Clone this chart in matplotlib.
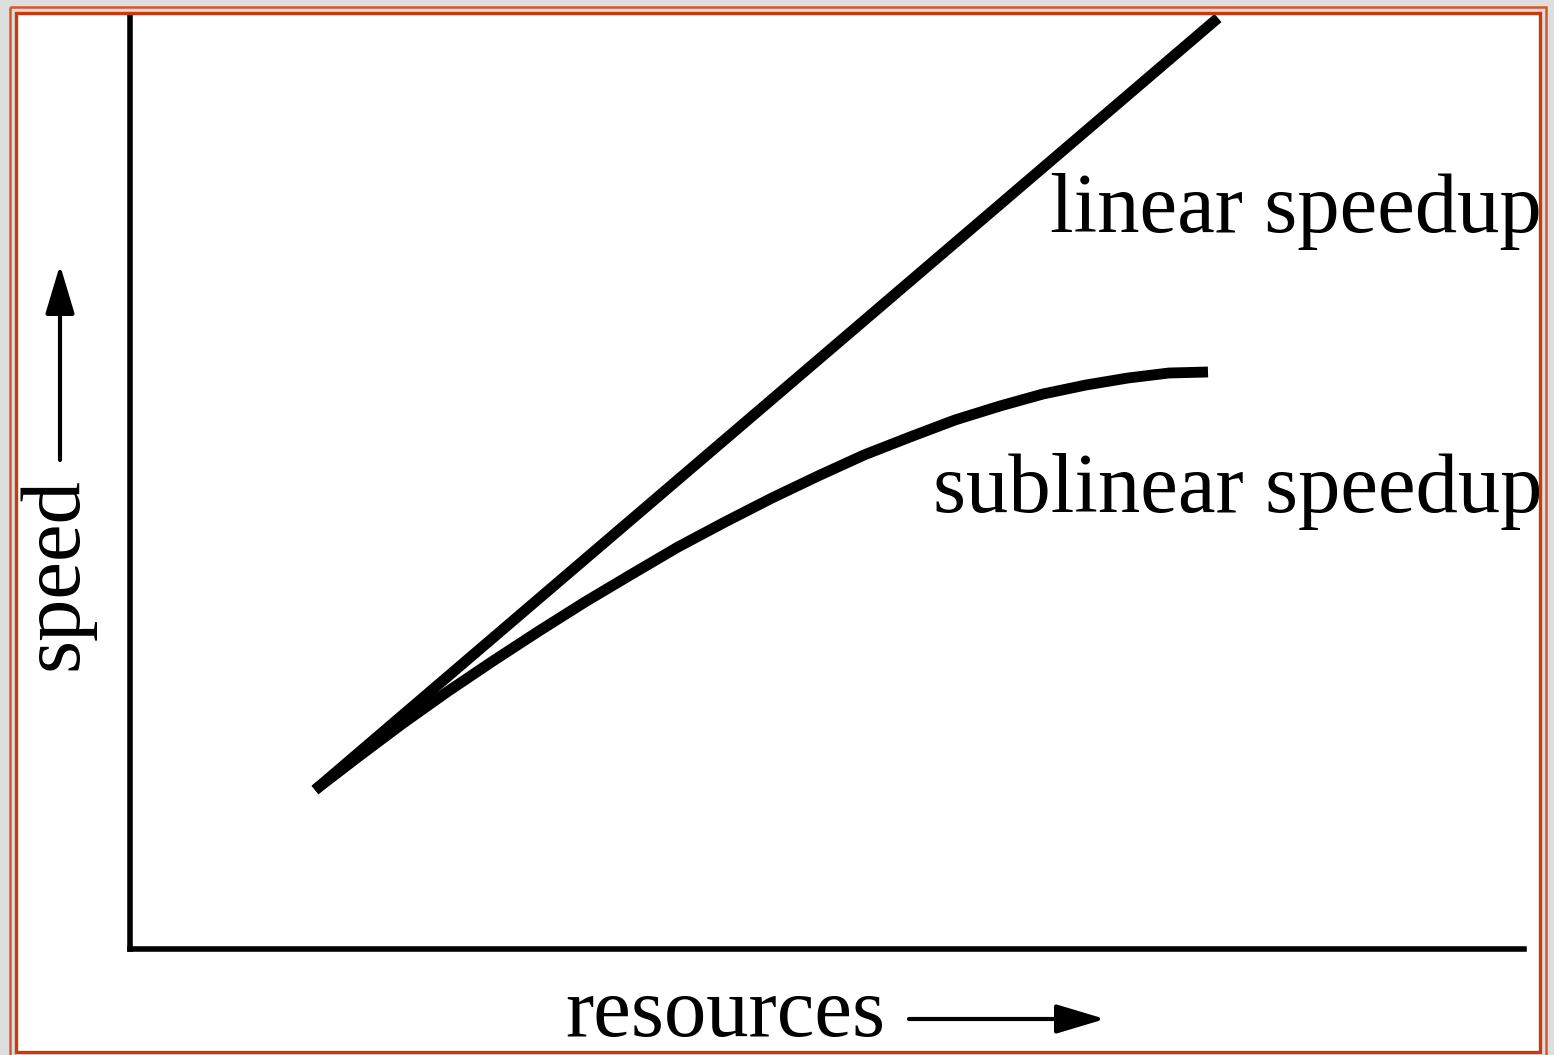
import matplotlib
matplotlib.use("Agg")
import matplotlib.pyplot as plt
from matplotlib.patches import Rectangle, FancyArrowPatch
from matplotlib.transforms import Affine2D

# data (resources, speed) in arbitrary units
linear_x = [1.85, 10.88]
linear_y = [1.59, 9.31]

sublinear_x = [1.85, 2.28, 2.72, 3.17, 3.63, 4.09, 4.55, 5.02, 5.48, 5.95, 6.42,
               6.88, 7.34, 7.80, 8.25, 8.70, 9.13, 9.56, 9.98, 10.39, 10.78]
sublinear_y = [1.59, 1.92, 2.25, 2.57, 2.88, 3.18, 3.47, 3.75, 4.02, 4.27, 4.51,
               4.73, 4.94, 5.12, 5.29, 5.43, 5.55, 5.64, 5.71, 5.76, 5.77]

labels = ["linear speedup", "sublinear speedup"]
xlabel = "resources"
ylabel = "speed"

W, H = 1554, 1055
fig = plt.figure(figsize=(W / 100, H / 100), dpi=100)
fig.patch.set_facecolor("#dedede")
plt.rcParams['font.family'] = ['Liberation Serif', 'DejaVu Serif']

# pixel coords -> figure
px = Affine2D().scale(1 / W, -1 / H).translate(0, 1) + fig.transFigure

# white page
fig.patches.append(Rectangle((16, 13), 1524, 1040, transform=px,
                             facecolor="white", edgecolor="none", zorder=-1))

ax = fig.add_axes([130 / W, 1 - 949 / H, (1524 - 130) / W, (949 - 16) / H])
ax.set_facecolor("none")
ax.set_xlim(0, 13.94)
ax.set_ylim(0, 9.33)
for s in ["top", "right"]:
    ax.spines[s].set_visible(False)
for s in ["left", "bottom"]:
    ax.spines[s].set_linewidth(4)
ax.set_xticks([])
ax.set_yticks([])

ax.plot(linear_x, linear_y, color="black", lw=7.8, solid_capstyle="butt", clip_on=False)
ax.plot(sublinear_x, sublinear_y, color="black", lw=7.8, solid_capstyle="butt",
        solid_joinstyle="round", clip_on=False)

fs = 61
ax.text(9.20, 7.17, labels[0], fontsize=fs, ha="left", va="baseline", clip_on=False)
ax.text(8.03, 4.37, labels[1], fontsize=fs, ha="left", va="baseline", clip_on=False)
ax.text(4.35, -0.87, xlabel, fontsize=fs, ha="left", va="baseline", clip_on=False)
ax.text(-0.53, 2.79, ylabel, fontsize=fs, ha="left", va="baseline", rotation=90,
        rotation_mode="anchor", clip_on=False)

arrow_style = "-|>,head_length=1.5,head_width=0.45"
ax.add_patch(FancyArrowPatch((7.79, -0.70), (9.75, -0.70), arrowstyle=arrow_style,
                             mutation_scale=20, lw=3, color="black",
                             shrinkA=0, shrinkB=0, clip_on=False))
ax.add_patch(FancyArrowPatch((-0.70, 4.89), (-0.70, 6.84), arrowstyle=arrow_style,
                             mutation_scale=20, lw=3, color="black",
                             shrinkA=0, shrinkB=0, clip_on=False))

# grey margin on top of everything (clips the labels at the page edge)
for r in [(0, 0, 14, H), (1541, 0, W - 1541, H), (0, 0, W, 12), (0, 1052, W, 10)]:
    fig.patches.append(Rectangle(r[:2], r[2], r[3], transform=px,
                                 facecolor="#dedede", edgecolor="none", zorder=2))

# double orange frame
fig.patches.append(Rectangle((10, 7), 1536, 1060, transform=px, fill=False,
                             edgecolor="#d9552a", lw=1.8, zorder=3))
fig.patches.append(Rectangle((15.5, 13), 1524.5, 1039, transform=px, fill=False,
                             edgecolor="#cc3a0c", lw=2.4, zorder=3))

fig.savefig("out.png", dpi=100, facecolor=fig.get_facecolor())
